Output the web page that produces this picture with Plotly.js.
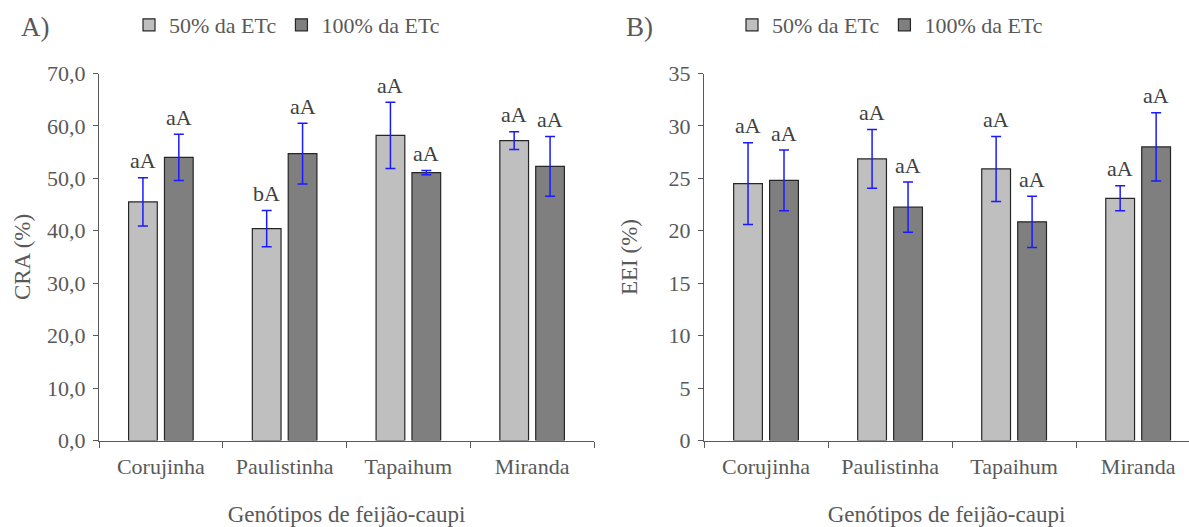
<!DOCTYPE html>
<html><head><meta charset="utf-8">
<script src="https://cdn.plot.ly/plotly-3.0.1.min.js"></script>
<style>html,body{margin:0;padding:0;background:#fff}#chart{width:1189px;height:527px}</style>
</head><body><div id="chart"></div>
<script>
const genotypes = ['Corujinha', 'Paulistinha', 'Tapaihum', 'Miranda'];
const seriesNames = ['50% da ETc', '100% da ETc'];

const craEtc50 = [45.5, 40.4, 58.2, 57.2];
const craEtc50Err = [4.6, 3.45, 6.3, 1.7];
const craEtc100 = [54.0, 54.7, 51.1, 52.3];
const craEtc100Err = [4.4, 5.8, 0.4, 5.7];
const craLabels50 = ['aA', 'bA', 'aA', 'aA'];
const craLabels100 = ['aA', 'aA', 'aA', 'aA'];

const eeiEtc50 = [24.5, 26.85, 25.9, 23.1];
const eeiEtc50Err = [3.9, 2.8, 3.1, 1.2];
const eeiEtc100 = [24.8, 22.25, 20.85, 28.0];
const eeiEtc100Err = [2.9, 2.4, 2.45, 3.25];
const eeiLabels50 = ['aA', 'aA', 'aA', 'aA'];
const eeiLabels100 = ['aA', 'aA', 'aA', 'aA'];

const panelLabels = ['A)', 'B)'];
const yTitles = ['CRA (%)', 'EEI (%)'];
const xTitle = 'Genótipos de feijão-caupi';

const FONT = 'Liberation Serif';
const GREY = '#595959';
const colors = ['#bfbfbf', '#7f7f7f'];
const BARGAP = 0.42;
const W = 1189, H = 527;

function barTrace(name, vals, errs, color, xa, ya, legend) {
  return {
    type: 'bar', name: name, x: genotypes, y: vals,
    xaxis: xa, yaxis: ya, legend: legend, showlegend: true,
    marker: {color: color, line: {color: '#262626', width: 1.2}},
    error_y: {type: 'data', array: errs, visible: true, color: '#1a1aff', thickness: 1.5, width: 5},
    hoverinfo: 'x+y'
  };
}

const data = [
  barTrace(seriesNames[0], craEtc50, craEtc50Err, colors[0], 'x', 'y', 'legend'),
  barTrace(seriesNames[1], craEtc100, craEtc100Err, colors[1], 'x', 'y', 'legend'),
  barTrace(seriesNames[0], eeiEtc50, eeiEtc50Err, colors[0], 'x2', 'y2', 'legend2'),
  barTrace(seriesNames[1], eeiEtc100, eeiEtc100Err, colors[1], 'x2', 'y2', 'legend2')
];

const off = (1 - BARGAP) / 4;
const annotations = [];
function addLabels(vals, errs, labels, sign, xref, yref) {
  vals.forEach((v, i) => {
    annotations.push({
      x: i + sign * off, y: v + errs[i], xref: xref, yref: yref,
      text: labels[i], showarrow: false, yanchor: 'middle', yshift: 17,
      font: {family: FONT, size: 22, color: '#404040'}
    });
  });
}
addLabels(craEtc50, craEtc50Err, craLabels50, -1, 'x', 'y');
addLabels(craEtc100, craEtc100Err, craLabels100, 1, 'x', 'y');
addLabels(eeiEtc50, eeiEtc50Err, eeiLabels50, -1, 'x2', 'y2');
addLabels(eeiEtc100, eeiEtc100Err, eeiLabels100, 1, 'x2', 'y2');

annotations.push({x: 19 / W, y: 1 - 27 / H, xref: 'paper', yref: 'paper', xanchor: 'left', yanchor: 'middle',
  text: panelLabels[0], showarrow: false, font: {family: FONT, size: 27, color: GREY}});
annotations.push({x: 624 / W, y: 1 - 27 / H, xref: 'paper', yref: 'paper', xanchor: 'left', yanchor: 'middle',
  text: panelLabels[1], showarrow: false, font: {family: FONT, size: 27, color: GREY}});

const yDomain = [1 - 440.5 / H, 1 - 73.5 / H];
const tickFont = {family: FONT, size: 22, color: GREY};

function xAxis(domain, range) {
  return {
    domain: domain, type: 'category', range: range, showline: true, linecolor: GREY, linewidth: 1,
    ticks: 'outside', tickson: 'boundaries', ticklen: 6, tickcolor: GREY, tickwidth: 1,
    tickfont: tickFont, ticklabelstandoff: 6, showgrid: false, zeroline: false, automargin: false,
    title: {text: xTitle, font: {family: FONT, size: 23, color: GREY}, standoff: 30}
  };
}
function yAxis(range, dtick, fmt, title, standoff) {
  return {
    domain: yDomain, range: range, dtick: dtick, tickformat: fmt, showline: true, linecolor: GREY, linewidth: 1,
    ticks: 'outside', ticklen: 5, tickcolor: GREY, tickwidth: 1, tickfont: tickFont, ticklabelstandoff: 3,
    showgrid: false, zeroline: false, automargin: false,
    title: {text: title, font: {family: FONT, size: 23, color: GREY}, standoff: standoff}
  };
}

const legendBase = {
  orientation: 'h', xanchor: 'left', yanchor: 'middle', y: 1 - 25 / H,
  bgcolor: 'rgba(0,0,0,0)', font: {family: FONT, size: 22, color: GREY}, traceorder: 'normal'
};

const layout = {
  width: W, height: H, paper_bgcolor: '#fff', plot_bgcolor: '#fff',
  margin: {l: 0, r: 0, t: 0, b: 0},
  separators: ',.',
  barmode: 'group', bargap: BARGAP, bargroupgap: 0.2,
  showlegend: true,
  legend: Object.assign({}, legendBase, {x: 129 / W}),
  legend2: Object.assign({}, legendBase, {x: 732 / W}),
  xaxis: Object.assign(xAxis([99 / W, 594 / W], [-0.5, 3.5]), {anchor: 'y'}),
  yaxis: Object.assign(yAxis([0, 70], 10, '.1f', yTitles[0], 10), {anchor: 'x'}),
  xaxis2: Object.assign(xAxis([704 / W, 1], [-0.5, 3.41]), {anchor: 'y2'}),
  yaxis2: Object.assign(yAxis([0, 35], 5, 'd', yTitles[1], 24), {anchor: 'x2'}),
  annotations: annotations
};

Plotly.newPlot('chart', data, layout, {displayModeBar: false, staticPlot: true});
</script>
</body></html>
